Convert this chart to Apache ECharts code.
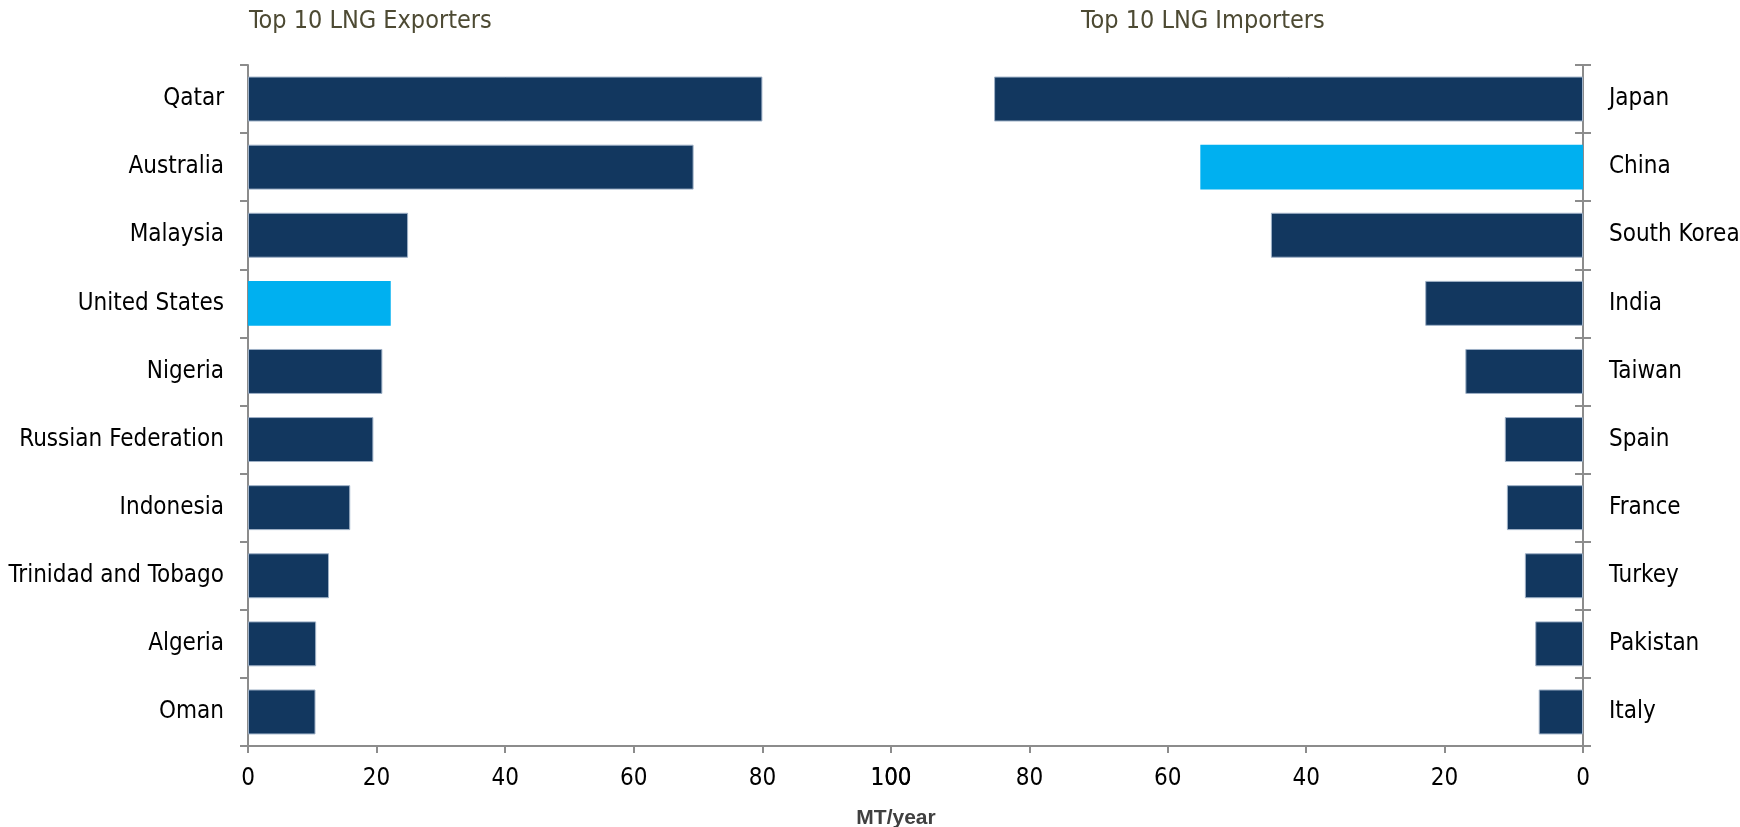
<!DOCTYPE html>
<html>
<head>
<meta charset="utf-8">
<script src="https://cdn.jsdelivr.net/npm/echarts@6/dist/echarts.min.js"></script>
<style>
html,body{margin:0;padding:0;background:#fff;}
#chart{width:1740px;height:827px;}
</style>
</head>
<body>
<div id="chart"></div>
<script>
const exporters = ['Qatar','Australia','Malaysia','United States','Nigeria','Russian Federation','Indonesia','Trinidad and Tobago','Algeria','Oman'];
const exportValues = [80.0, 69.3, 24.9, 22.2, 20.9, 19.5, 15.9, 12.6, 10.6, 10.5];
const importers = ['Japan','China','South Korea','India','Taiwan','Spain','France','Turkey','Pakistan','Italy'];
const importValues = [85.1, 55.3, 45.1, 22.8, 17.0, 11.3, 11.0, 8.4, 6.9, 6.4];
const highlighted = ['United States','China'];
const xTicks = [0, 20, 40, 60, 80, 100];

const NAVY = '#12375f';
const LIGHT = '#00b0f0';
const FONT = "'DejaVu Sans Condensed','Liberation Sans Narrow',sans-serif";
const AXIS = '#8c8c8c';

function barData(names, vals) {
  return vals.map((v, i) => {
    const hi = highlighted.includes(names[i]);
    return {
      value: v,
      itemStyle: hi ? {color: LIGHT, borderWidth: 0}
                    : {color: NAVY, borderColor: '#9fb1c7', borderWidth: 1}
    };
  });
}

const chart = echarts.init(document.getElementById('chart'));
const xCommon = (gi, inv) => ({
  type: 'value', gridIndex: gi, min: 0, max: 100, interval: 20, inverse: inv,
  splitLine: {show: false},
  axisLine: {show: true, lineStyle: {color: AXIS, width: 2}},
  axisTick: {show: true, length: 7, lineStyle: {color: AXIS, width: 2}},
  axisLabel: {color: '#000', fontFamily: FONT, fontSize: 24, margin: 21,
    formatter: v => xTicks.includes(v) ? String(v) : ''}
});
chart.setOption({
  animation: false,
  title: [
    {text: 'Top 10 LNG Exporters', left: 244, top: 4,
     textStyle: {color: '#4d4a33', fontFamily: FONT, fontSize: 25, fontWeight: 'normal'}},
    {text: 'Top 10 LNG Importers', left: 1076, top: 4,
     textStyle: {color: '#4d4a33', fontFamily: FONT, fontSize: 25, fontWeight: 'normal'}},
    {text: 'MT/year', left: 891, top: 803, textAlign: 'center',
     textStyle: {color: '#404040', fontFamily: "'Liberation Sans',sans-serif", fontSize: 21, fontWeight: 'bold'}}
  ],
  grid: [
    {left: 248, top: 65, width: 643, height: 681, outerBoundsMode: 'none', containLabel: false},
    {left: 891, top: 65, width: 692, height: 681, outerBoundsMode: 'none', containLabel: false}
  ],
  xAxis: [xCommon(0, false), xCommon(1, true)],
  yAxis: [
    {type: 'category', gridIndex: 0, data: exporters, inverse: true, position: 'left',
     axisLine: {show: true, lineStyle: {color: AXIS, width: 2}},
     axisTick: {show: true, length: 8, lineStyle: {color: AXIS, width: 2}},
     axisLabel: {color: '#000', fontFamily: FONT, fontSize: 24, margin: 24}},
    {type: 'category', gridIndex: 1, data: importers, inverse: true, position: 'right',
     axisLine: {show: true, lineStyle: {color: AXIS, width: 2}},
     axisTick: {show: true, length: 8, lineStyle: {color: AXIS, width: 2}},
     axisLabel: {color: '#000', fontFamily: FONT, fontSize: 24, margin: 26}},
    {type: 'category', gridIndex: 1, data: importers, inverse: true, position: 'right',
     axisLine: {show: false},
     axisTick: {show: true, inside: true, length: 8, lineStyle: {color: AXIS, width: 2}},
     axisLabel: {show: false}}
  ],
  series: [
    {type: 'bar', xAxisIndex: 0, yAxisIndex: 0, data: barData(exporters, exportValues),
     barCategoryGap: '34%'},
    {type: 'bar', xAxisIndex: 1, yAxisIndex: 1, data: barData(importers, importValues),
     barCategoryGap: '34%'}
  ]
});
</script>
</body>
</html>
